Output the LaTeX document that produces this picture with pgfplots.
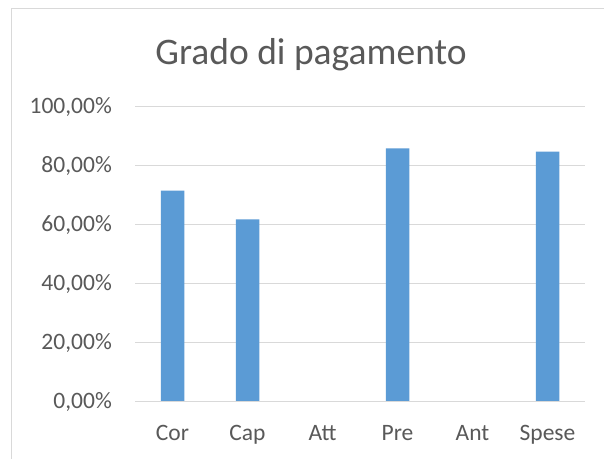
\documentclass[border=0pt]{standalone}
\usepackage{pgfplots}
\pgfplotsset{compat=1.18}
\usepackage{fontspec}
\setmainfont{Carlito}
\definecolor{txt}{HTML}{595959}
\definecolor{grd}{HTML}{D9D9D9}
\definecolor{bar}{HTML}{5B9BD5}
\begin{document}
\begin{tikzpicture}[x=1bp,y=1bp]
\useasboundingbox (0,0) rectangle (604,459);
\fill[white] (0,0) rectangle (604,459);
\draw[grd, line width=1.5bp] (11.5,0) |- (604,450.5);
\node[anchor=base, text=txt, font=\fontsize{37.5bp}{40bp}\selectfont] at (311,394) {Grado di pagamento};
\begin{axis}[
  at={(135bp,57.5bp)}, anchor=south west,
  scale only axis, width=450bp, height=295bp,
  xmin=-0.5, xmax=5.5, ymin=0, ymax=1,
  axis line style={draw=none},
  ytick={0,0.2,0.4,0.6,0.8,1},
  yticklabels={{0,00\%},{20,00\%},{40,00\%},{60,00\%},{80,00\%},{100,00\%}},
  xtick={0,1,2,3,4,5},
  xticklabels={Cor,Cap,Att,Pre,Ant,Spese},
  major tick length=0pt,
  tick style={draw=none},
  ymajorgrids, grid style={grd, line width=1.3bp},
  yticklabel style={anchor=base east, inner sep=0pt, xshift=-23bp, yshift=-7.4bp, text=txt, font=\fontsize{23.5bp}{26bp}\selectfont},
  xticklabel style={anchor=base, inner sep=0pt, yshift=-39bp, text=txt, font=\fontsize{23.5bp}{26bp}\selectfont},
  clip=false,
]
\addplot[ybar, bar width=23.5bp, fill=bar, draw=none, bar shift=0pt] coordinates {
(0,0.715) (1,0.617) (2,0) (3,0.858) (4,0) (5,0.847)};
\draw[grd, line width=1.3bp] (axis cs:-0.5,0) -- (axis cs:5.5,0);
\end{axis}
\end{tikzpicture}
\end{document}
